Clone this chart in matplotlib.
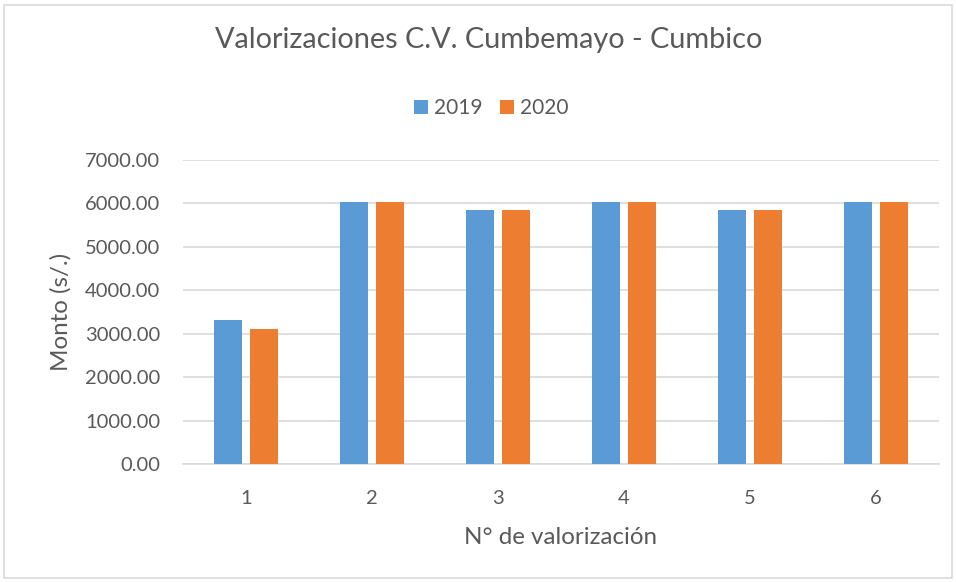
import matplotlib
matplotlib.use("Agg")
import matplotlib.pyplot as plt
import numpy as np
from matplotlib.patches import Rectangle

categories = ["1", "2", "3", "4", "5", "6"]
series_names = ["2019", "2020"]
values_2019 = [3310, 6035, 5845, 6035, 5845, 6035]
values_2020 = [3110, 6035, 5845, 6035, 5845, 6035]
y_ticks = [0, 1000, 2000, 3000, 4000, 5000, 6000, 7000]

plt.rcParams['font.family'] = ['Lato', 'DejaVu Sans']
TXT = '#595959'
GRID = '#D9D9D9'

fig = plt.figure(figsize=(9.56, 5.82), dpi=100)
ax = fig.add_axes([183/956, 1-464/582, (939-183)/956, (464-160)/582])

x = np.arange(len(categories))
w = 0.222
off = 0.143
ax.bar(x - off, values_2019, width=w, color='#5B9BD5', label=series_names[0], zorder=3)
ax.bar(x + off, values_2020, width=w, color='#ED7D31', label=series_names[1], zorder=3)

ax.set_xlim(-0.5, len(categories) - 0.5)
ax.set_ylim(0, 7000)
ax.set_yticks(y_ticks)
ax.set_yticklabels([f"{v:.2f}" for v in y_ticks])
ax.set_xticks(x)
ax.set_xticklabels(categories)
ax.grid(axis='y', color=GRID, linewidth=1.2, zorder=0)
ax.set_axisbelow(True)
for s in ['top', 'right', 'left']:
    ax.spines[s].set_visible(False)
ax.spines['bottom'].set_color(GRID)
ax.spines['bottom'].set_linewidth(1.2)
ax.tick_params(axis='both', length=0, labelcolor=TXT, labelsize=14.5)
ax.tick_params(axis='y', pad=16.5)
ax.tick_params(axis='x', pad=19)

ax.set_ylabel("Monto (s/.)", fontsize=17.4, color=TXT, ha='center', va='center',
              rotation_mode='anchor')
ax.yaxis.set_label_coords((61-183)/756, 0.5)
ax.set_xlabel("N° de valorización", fontsize=17.4, color=TXT)
ax.xaxis.set_label_coords(0.5, (464-527)/304)

fig.text(489/956, 1-40/582, "Valorizaciones C.V. Cumbemayo - Cumbico", ha='center', va='center',
         fontsize=20.8, color=TXT)
leg = fig.legend(loc='center', bbox_to_anchor=(491.5/956, 1-108/582), ncol=2, frameon=False,
                 fontsize=15, handlelength=0.67, handleheight=0.67, handletextpad=0.29,
                 columnspacing=0.85, labelcolor=TXT, borderpad=0, borderaxespad=0)

fig.patches.append(Rectangle((4/956, 4/582), 948/956, 573/582, transform=fig.transFigure,
                             fill=False, edgecolor=GRID, linewidth=1.2))

fig.savefig("out.png", dpi=100, facecolor='white')
